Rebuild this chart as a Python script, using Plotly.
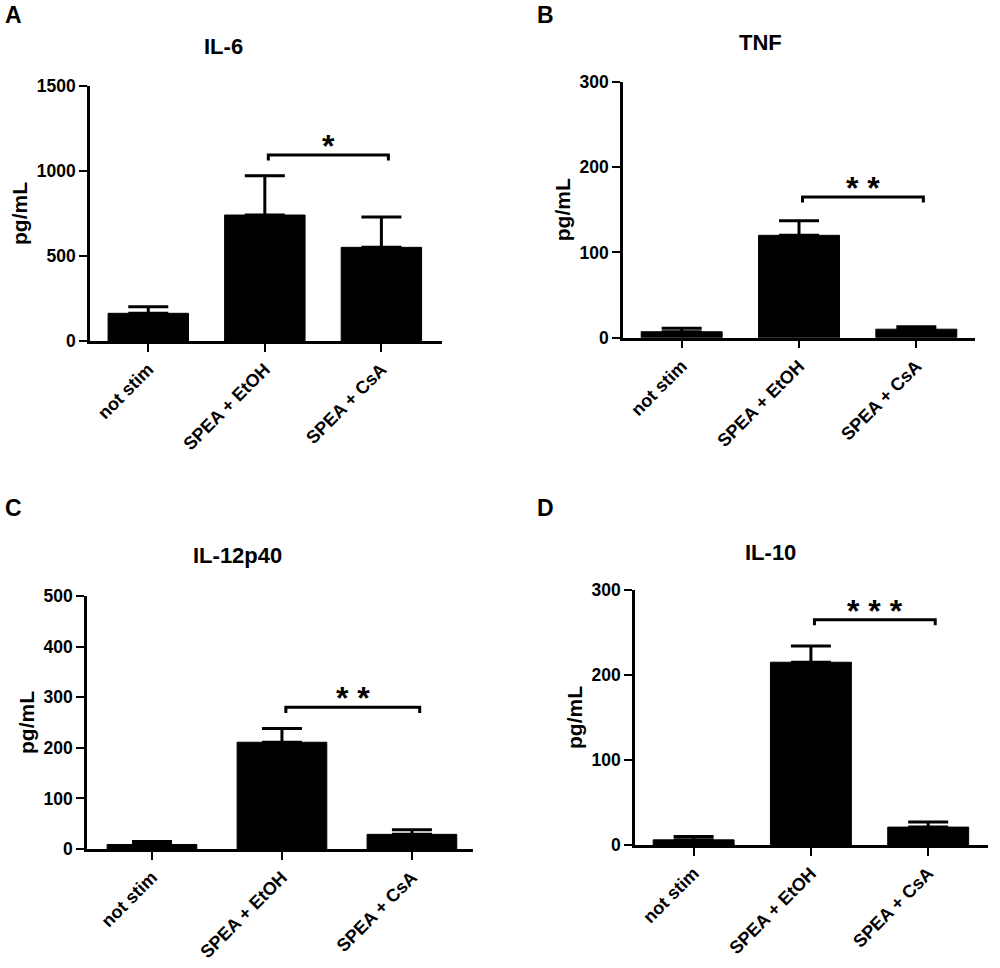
import plotly.graph_objects as go

categories = ["not stim", "SPEA + EtOH", "SPEA + CsA"]
cat_pos = [0, 1, 2]

il6_mean = [163, 741, 551]
il6_err = [39, 231, 178]

tnf_mean = [7, 120, 10]
tnf_err = [4, 17, 3]

il12_mean = [9, 211, 29]
il12_err = [6, 27, 9]

il10_mean = [6, 215, 21]
il10_err = [4, 19, 6]

titles = ["IL-6", "TNF", "IL-12p40", "IL-10"]
panel_letters = ["A", "B", "C", "D"]
y_max = [1500, 300, 500, 300]
y_dtick = [500, 100, 100, 100]
sig_y = [1094, 165, 280, 265]
sig_x = [1.03, 2.06]
sig_text = ["*", "* *", "* *", "* * *"]

means = [il6_mean, tnf_mean, il12_mean, il10_mean]
errs = [il6_err, tnf_err, il12_err, il10_err]

# layout geometry (paper coords)
x_domains = [[0.090, 0.442], [0.623, 0.975], [0.087, 0.473], [0.635, 0.988]]
y_domains = [[0.6477, 0.9112], [0.6511, 0.9156], [0.1229, 0.3843], [0.1271, 0.3905]]
x_ranges = [[-0.5, 2.52], [-0.5, 2.5], [-0.5, 2.47], [-0.5, 2.51]]
title_pos = [(0.223, 1 - 47 / 968), (0.760, 1 - 43 / 968), (0.237, 1 - 555 / 968), (0.770, 1 - 552 / 968)]
letter_pos = [(0.003, 1 - 15 / 968), (0.535, 1 - 15 / 968), (0.003, 1 - 508 / 968), (0.535, 1 - 508 / 968)]

FONT = "Arial, Liberation Sans, sans-serif"

fig = go.Figure()
layout = dict(
    width=1000, height=968,
    margin=dict(l=0, r=0, t=0, b=0, autoexpand=False),
    paper_bgcolor="white", plot_bgcolor="white",
    showlegend=False,
    font=dict(family=FONT, color="black"),
    annotations=[],
)

for i in range(4):
    sfx = "" if i == 0 else str(i + 1)
    xa, ya = "x" + sfx, "y" + sfx
    fig.add_trace(go.Bar(
        x=cat_pos, y=means[i], xaxis=xa, yaxis=ya,
        width=0.69,
        marker=dict(color="black", line=dict(color="black", width=1)),
        error_y=dict(type="data", array=errs[i], arrayminus=[0, 0, 0], symmetric=False,
                     color="black", thickness=3, width=20),
    ))
    # significance bracket between EtOH and CsA
    d = y_max[i] * 0.022
    fig.add_trace(go.Scatter(
        x=[sig_x[0], sig_x[0], sig_x[1], sig_x[1]],
        y=[sig_y[i] - d, sig_y[i], sig_y[i], sig_y[i] - d],
        xaxis=xa, yaxis=ya, mode="lines",
        line=dict(color="black", width=3), hoverinfo="skip",
    ))
    layout["xaxis" + sfx] = dict(
        domain=x_domains[i], anchor=ya, automargin=False,
        tickmode="array", tickvals=cat_pos, ticktext=categories,
        range=x_ranges[i], showline=True, linecolor="black", linewidth=2.5,
        ticks="outside", ticklen=8, tickwidth=2, tickcolor="black",
        tickangle=-45, showgrid=False, zeroline=False,
        tickfont=dict(family=FONT, size=18, color="black", weight="bold"),
    )
    layout["yaxis" + sfx] = dict(
        domain=y_domains[i], anchor=xa, range=[0, y_max[i]], automargin=False,
        tick0=0, dtick=y_dtick[i], showline=True, linecolor="black", linewidth=2.5,
        ticks="outside", ticklen=8, tickwidth=2, tickcolor="black",
        showgrid=False, zeroline=False,
        tickfont=dict(family=FONT, size=17.5, color="black", weight="bold"),
        title=dict(text="pg/mL", standoff=4,
                   font=dict(family=FONT, size=21, color="black", weight="bold")),
    )
    layout["annotations"].append(dict(
        x=sum(sig_x) / 2, y=sig_y[i], xref=xa, yref=ya, text=sig_text[i],
        showarrow=False, yanchor="bottom", yshift=-11,
        font=dict(family=FONT, size=32, color="black", weight="bold"),
    ))
    layout["annotations"].append(dict(
        x=title_pos[i][0], y=title_pos[i][1], xref="paper", yref="paper",
        text=titles[i], showarrow=False, xanchor="center", yanchor="middle",
        font=dict(family=FONT, size=22, color="black", weight="bold"),
    ))
    layout["annotations"].append(dict(
        x=letter_pos[i][0], y=letter_pos[i][1], xref="paper", yref="paper",
        text=panel_letters[i], showarrow=False, xanchor="left", yanchor="middle",
        font=dict(family=FONT, size=23, color="black", weight="bold"),
    ))

fig.update_layout(**layout)
fig.write_html("out.html", config={"displayModeBar": False},
               post_script="document.body.style.margin='0px';document.body.style.padding='0px';")
